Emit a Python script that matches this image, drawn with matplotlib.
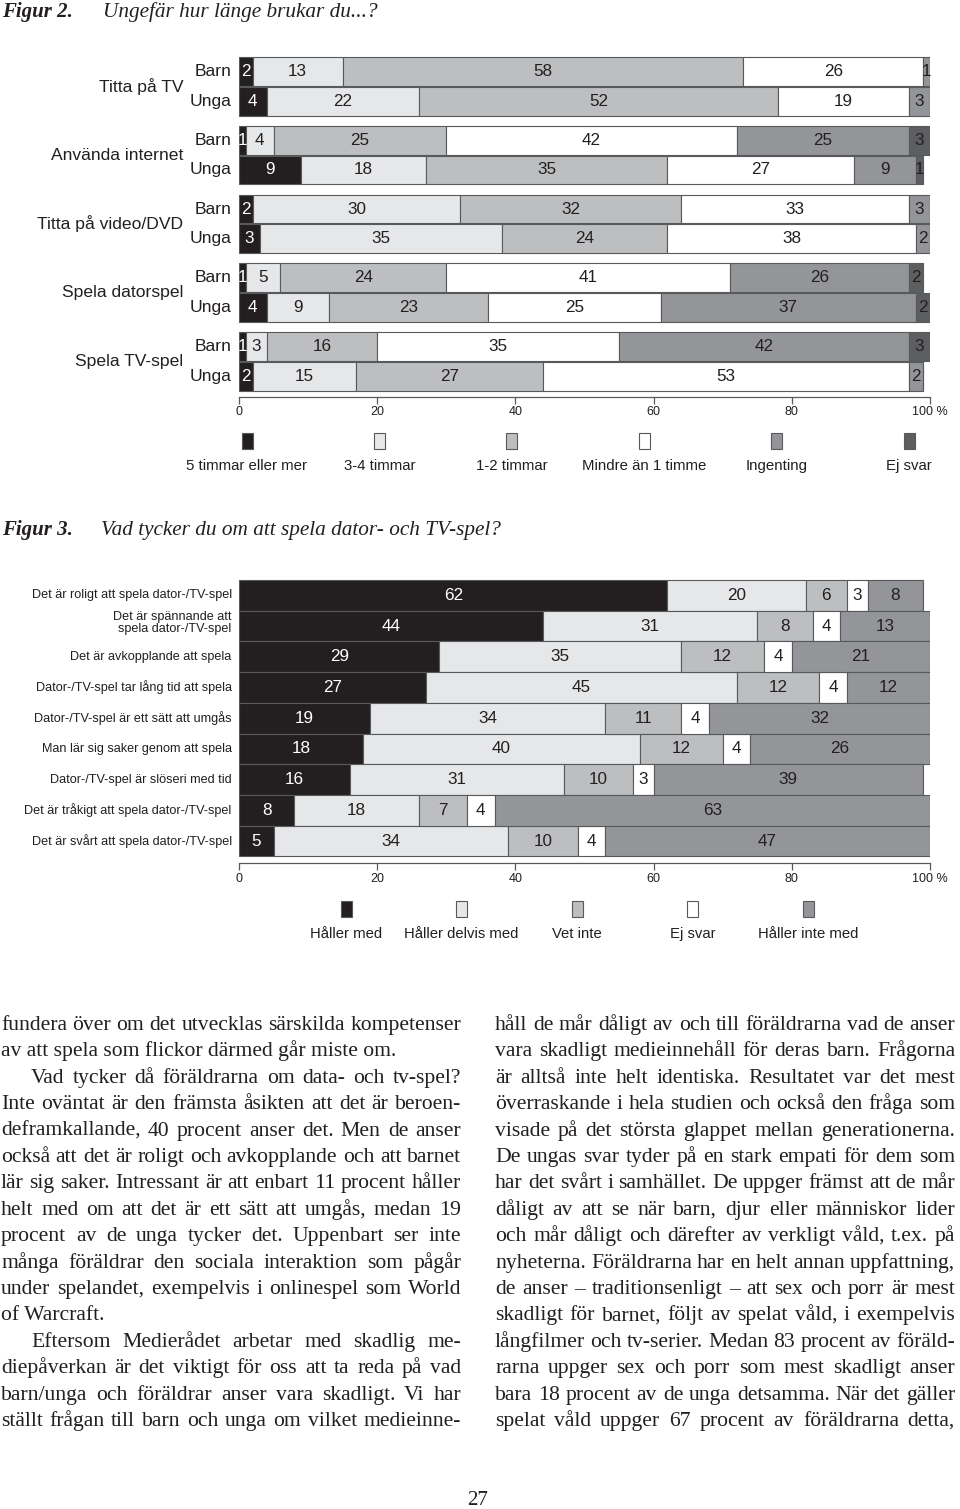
import matplotlib
matplotlib.use("Agg")
import matplotlib.pyplot as plt
from matplotlib.patches import Rectangle

W, H = 960, 1509

# ---- Figur 2 data ----
fig2_activities = ['Titta på TV', 'Använda internet', 'Titta på video/DVD',
                   'Spela datorspel', 'Spela TV-spel']
fig2_groups = ['Barn', 'Unga']
fig2_series = ['5 timmar eller mer', '3-4 timmar', '1-2 timmar',
               'Mindre än 1 timme', 'Ingenting', 'Ej svar']
# one value per bar: TV barn, TV unga, internet barn, internet unga, ...
h5_plus = [2, 4, 1, 9, 2, 3, 1, 4, 1, 2]
h3_4 = [13, 22, 4, 18, 30, 35, 5, 9, 3, 15]
h1_2 = [58, 52, 25, 35, 32, 24, 24, 23, 16, 27]
lt1 = [26, 19, 42, 27, 33, 38, 41, 25, 35, 53]
lt1_drawn = [26, 19, 42, 27, 33, 36, 41, 25, 35, 53]   # printed 38 but bar is ~36 wide
ingenting = [1, 3, 25, 9, 3, 2, 26, 37, 42, 2]
ej_svar2 = [0, 0, 3, 1, 0, 0, 2, 2, 3, 0]

# ---- Figur 3 data ----
fig3_statements = ['Det är roligt att spela dator-/TV-spel',
                   'Det är spännande att\nspela dator-/TV-spel',
                   'Det är avkopplande att spela',
                   'Dator-/TV-spel tar lång tid att spela',
                   'Dator-/TV-spel är ett sätt att umgås',
                   'Man lär sig saker genom att spela',
                   'Dator-/TV-spel är slöseri med tid',
                   'Det är tråkigt att spela dator-/TV-spel',
                   'Det är svårt att spela dator-/TV-spel']
fig3_series = ['Håller med', 'Håller delvis med', 'Vet inte', 'Ej svar', 'Håller inte med']
haller_med = [62, 44, 29, 27, 19, 18, 16, 8, 5]
delvis_med = [20, 31, 35, 45, 34, 40, 31, 18, 34]
vet_inte = [6, 8, 12, 12, 11, 12, 10, 7, 10]
ej_svar3 = [3, 4, 4, 4, 4, 4, 3, 4, 4]
inte_med = [8, 13, 21, 12, 32, 26, 39, 63, 47]
inte_med_drawn = [8, 13, 20, 12, 32, 26, 39, 63, 47]  # printed 21, bar ends at 100

ticks = [0, 20, 40, 60, 80, 100]
tick_labels = ['0', '20', '40', '60', '80', '100 %']

left_col = [
    "fundera över om det utvecklas särskilda kompetenser",
    "av att spela som flickor därmed går miste om.",
    "Vad tycker då föräldrarna om data- och tv-spel?",
    "Inte oväntat är den främsta åsikten att det är beroen-",
    "deframkallande, 40 procent anser det. Men de anser",
    "också att det är roligt och avkopplande och att barnet",
    "lär sig saker. Intressant är att enbart 11 procent håller",
    "helt med om att det är ett sätt att umgås, medan 19",
    "procent av de unga tycker det. Uppenbart ser inte",
    "många föräldrar den sociala interaktion som pågår",
    "under spelandet, exempelvis i onlinespel som World",
    "of Warcraft.",
    "Eftersom Medierådet arbetar med skadlig me-",
    "diepåverkan är det viktigt för oss att ta reda på vad",
    "barn/unga och föräldrar anser vara skadligt. Vi har",
    "ställt frågan till barn och unga om vilket medieinne-",
]
left_indent = {2, 12}
left_ragged = {1, 11}
right_col = [
    "håll de mår dåligt av och till föräldrarna vad de anser",
    "vara skadligt medieinnehåll för deras barn. Frågorna",
    "är alltså inte helt identiska. Resultatet var det mest",
    "överraskande i hela studien och också den fråga som",
    "visade på det största glappet mellan generationerna.",
    "De ungas svar tyder på en stark empati för dem som",
    "har det svårt i samhället. De uppger främst att de mår",
    "dåligt av att se när barn, djur eller människor lider",
    "och mår dåligt och därefter av verkligt våld, t.ex. på",
    "nyheterna. Föräldrarna har en helt annan uppfattning,",
    "de anser – traditionsenligt – att sex och porr är mest",
    "skadligt för barnet, följt av spelat våld, i exempelvis",
    "långfilmer och tv-serier. Medan 83 procent av föräld-",
    "rarna uppger sex och porr som mest skadligt anser",
    "bara 18 procent av de unga detsamma. När det gäller",
    "spelat våld uppger 67 procent av föräldrarna detta,",
]

INK = '#231f20'
EDGE = '#58595b'
col_black = '#231f20'
col_light = '#e6e7e8'
col_mid = '#bcbec0'
col_white = '#ffffff'
col_gray = '#939598'
col_dark = '#5d5e60'
SANS = ['Liberation Sans', 'DejaVu Sans']
SERIF = ['Liberation Serif', 'DejaVu Serif']

plt.rcParams['font.family'] = SANS

fig = plt.figure(figsize=(W / 100, H / 100), dpi=100)


def fx(px):
    return px / W


def fy(py):
    return 1 - py / H


def stacked(ax, ypos, series, drawn, colors, height):
    left = [0] * len(ypos)
    for vals, widths, c in zip(series, drawn, colors):
        ax.barh(ypos, widths, left=left, height=height, color=c,
                edgecolor=EDGE, linewidth=0.8)
        for y, l, v, w in zip(ypos, left, vals, widths):
            if v > 0:
                ax.text(l + w / 2, y, str(v), ha='center', va='center',
                        fontsize=12.3, color='white' if c == col_black else INK)
        left = [l + w for l, w in zip(left, widths)]


def style_axis(ax):
    for s in ['left', 'right', 'top']:
        ax.spines[s].set_visible(False)
    ax.spines['bottom'].set_color(EDGE)
    ax.spines['bottom'].set_linewidth(0.9)
    ax.set_xlim(0, 100)
    ax.set_xticks(ticks)
    ax.set_xticklabels(tick_labels)
    ax.tick_params(axis='x', length=5, width=0.9, color=EDGE, labelsize=9,
                   pad=2, labelcolor=INK)
    ax.set_yticks([])


def legend_row(names, colors, x0, step, ysq, ytxt, size):
    for k, (n, c) in enumerate(zip(names, colors)):
        xc = x0 + step * k
        fig.patches.append(Rectangle((fx(xc - 5.5), fy(ysq + 8)), 11 / W, 16 / H,
                                     transform=fig.transFigure, facecolor=c,
                                     edgecolor=EDGE, linewidth=0.8))
        fig.text(fx(xc), fy(ytxt), n, ha='center', va='center',
                 fontsize=size, color=INK)


# ---------------- Figur 2 ----------------
fig.text(fx(2), fy(17), 'Figur 2.', fontsize=15, family=SERIF, style='italic',
         weight='bold', color=INK, va='baseline')
fig.text(fx(103), fy(17), 'Ungefär hur länge brukar du...?', fontsize=15.3,
         family=SERIF, style='italic', color=INK, va='baseline')

ax1 = fig.add_axes([fx(239), fy(396.7), 691 / W, (396.7 - 50) / H])
pitch = 2.315
ypos1 = []
for g in range(len(fig2_activities)):
    ypos1 += [g * pitch, g * pitch + 1]
stacked(ax1, ypos1,
        [h5_plus, h3_4, h1_2, lt1, ingenting, ej_svar2],
        [h5_plus, h3_4, h1_2, lt1_drawn, ingenting, ej_svar2],
        [col_black, col_light, col_mid, col_white, col_gray, col_dark], 0.97)
ax1.set_ylim(10.95, -0.724)
style_axis(ax1)
for g, name in enumerate(fig2_activities):
    ax1.text(-0.081, g * pitch + 0.5, name, transform=ax1.get_yaxis_transform(),
             ha='right', va='center', fontsize=12.6, color=INK)
for k, y in enumerate(ypos1):
    ax1.text(-0.0105, y, fig2_groups[k % 2], transform=ax1.get_yaxis_transform(),
             ha='right', va='center', fontsize=12.6, color=INK)

legend_row(fig2_series, [col_black, col_light, col_mid, col_white, col_gray, col_dark],
           247, 132.4, 441, 466, 10.8)

# ---------------- Figur 3 ----------------
fig.text(fx(2), fy(535), 'Figur 3.', fontsize=15, family=SERIF, style='italic',
         weight='bold', color=INK, va='baseline')
fig.text(fx(101), fy(535), 'Vad tycker du om att spela dator- och TV-spel?', fontsize=15.3,
         family=SERIF, style='italic', color=INK, va='baseline')

ax2 = fig.add_axes([fx(239), fy(863.3), 691 / W, (863.3 - 575) / H])
ypos2 = list(range(len(fig3_statements)))
stacked(ax2, ypos2,
        [haller_med, delvis_med, vet_inte, ej_svar3, inte_med],
        [haller_med, delvis_med, vet_inte, ej_svar3, inte_med_drawn],
        [col_black, col_light, col_mid, col_white, col_gray], 1.0)
ax2.set_ylim(8.726, -0.664)
style_axis(ax2)
for y, s in zip(ypos2, fig3_statements):
    ax2.text(-0.0105, y - (0.1 if '\n' in s else 0), s,
             transform=ax2.get_yaxis_transform(), ha='right', va='center',
             fontsize=9.1, color=INK, multialignment='right', linespacing=1.05)

legend_row(fig3_series, [col_black, col_light, col_mid, col_white, col_gray],
           346, 115.5, 909, 934, 10.7)

# ---------------- body text ----------------
renderer = fig.canvas.get_renderer()


def column(lines, x0, x1, indent, ragged):
    for i, line in enumerate(lines):
        ybase = fy(1030 + 26.4 * i)
        start = x0 + (30 if i in indent else 0)
        words = line.split(' ')
        if i in ragged or len(words) == 1:
            fig.text(fx(start), ybase, line, fontsize=15.6, family=SERIF,
                     color=INK, va='baseline')
            continue
        objs = [fig.text(0, ybase, w, fontsize=15.6, family=SERIF, color=INK,
                         va='baseline') for w in words]
        widths = [o.get_window_extent(renderer).width for o in objs]
        gap = max((x1 - start - sum(widths)) / (len(words) - 1), 2)
        x = start
        for o, w in zip(objs, widths):
            o.set_x(fx(x))
            x += w + gap


column(left_col, 1, 461, left_indent, left_ragged)
column(right_col, 495, 955, set(), set())

fig.text(fx(478), fy(1505), '27', fontsize=15, family=SERIF, color=INK,
         ha='center', va='baseline')

fig.savefig('out.png', dpi=100)
